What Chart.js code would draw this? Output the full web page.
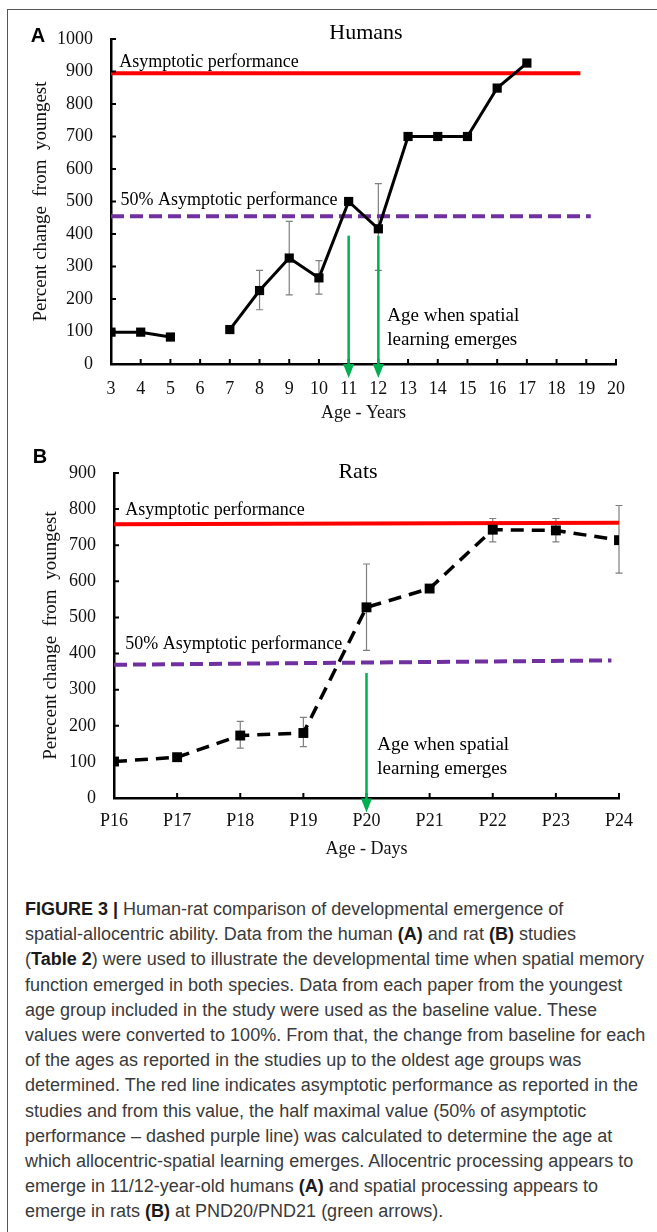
<!DOCTYPE html>
<html>
<head>
<meta charset="utf-8">
<script src="https://cdn.jsdelivr.net/npm/chart.js@4.4.1/dist/chart.umd.min.js"></script>
<style>
  html, body { margin: 0; padding: 0; background: #fff; }
  body { width: 657px; height: 1232px; position: relative; overflow: hidden; }
  #frame { position: absolute; left: 7px; top: 9px; right: -2px; bottom: -2px;
           border-top: 1.5px solid #555; border-left: 1.5px solid #555; }
  .panel { position: absolute; left: 0; width: 657px; }
  #panelA { top: 0; height: 440px; }
  #panelB { top: 440px; height: 425px; }
  #caption { position: absolute; left: 25px; top: 897px; font-family: "Liberation Sans", Arial, sans-serif;
             font-size: 18px; line-height: 25.2px; color: #3a3a3a; white-space: nowrap; }
  #caption b { color: #1a1a1a; }
</style>
</head>
<body>
<div id="frame"></div>
<div class="panel" id="panelA"><canvas id="chartA"></canvas></div>
<div class="panel" id="panelB"><canvas id="chartB"></canvas></div>
<div id="caption">
<b>FIGURE 3 |</b> Human-rat comparison of developmental emergence of<br>
spatial-allocentric ability. Data from the human <b>(A)</b> and rat <b>(B)</b> studies<br>
(<b>Table 2</b>) were used to illustrate the developmental time when spatial memory<br>
function emerged in both species. Data from each paper from the youngest<br>
age group included in the study were used as the baseline value. These<br>
values were converted to 100%. From that, the change from baseline for each<br>
of the ages as reported in the studies up to the oldest age groups was<br>
determined. The red line indicates asymptotic performance as reported in the<br>
studies and from this value, the half maximal value (50% of asymptotic<br>
performance – dashed purple line) was calculated to determine the age at<br>
which allocentric-spatial learning emerges. Allocentric processing appears to<br>
emerge in 11/12-year-old humans <b>(A)</b> and spatial processing appears to<br>
emerge in rats <b>(B)</b> at PND20/PND21 (green arrows).
</div>

<script>
// --- Panel A : humans (age in years) ---
const humanAges = [3, 4, 5, 6, 7, 8, 9, 10, 11, 12, 13, 14, 15, 16, 17];
const humanValues = [98, 98, 83, null, 106, 226, 326, 265, 500, 416, 700, 700, 700, 849, 926];
const humanErrLow = [null, null, null, null, null, 167, 213, 215, null, 288, null, null, null, null, null];
const humanErrHigh = [null, null, null, null, null, 288, 439, 318, null, 555, null, null, null, null, null];
const humanAsymptote = [{ x: 3, y: 895 }, { x: 18.8, y: 895 }];
const humanHalf = [{ x: 3, y: 455 }, { x: 19.15, y: 455 }];
const humanArrowAges = [11, 12];

// --- Panel B : rats (postnatal day) ---
const dayLabels = ['P16', 'P17', 'P18', 'P19', 'P20', 'P21', 'P22', 'P23', 'P24'];
const ratValues = [101, 113, 173, 180, 528, 580, 743, 741, 714];
const ratErrLow = [null, null, 138, 142, 409, null, 709, 709, 623];
const ratErrHigh = [null, null, 212, 223, 648, null, 774, 774, 810];
const ratAsymptote = [{ x: 0, y: 758 }, { x: 8, y: 762 }];
const ratHalf = [{ x: 0, y: 369 }, { x: 7.88, y: 381 }];
const ratArrowDays = ['P20'];

const SERIF = '"Liberation Serif", "Times New Roman", serif';
const SANS = '"Liberation Sans", Arial, sans-serif';
const GREEN = '#00B050';
const RED = '#FF0000';
const PURPLE = '#7030A0';

function drawArrow(ctx, x, yFrom, yTip) {
  ctx.save();
  ctx.strokeStyle = GREEN;
  ctx.fillStyle = GREEN;
  ctx.lineWidth = 2.5;
  ctx.beginPath();
  ctx.moveTo(x, yFrom);
  ctx.lineTo(x, yTip - 12);
  ctx.stroke();
  ctx.beginPath();
  ctx.moveTo(x - 5.5, yTip - 14);
  ctx.lineTo(x + 5.5, yTip - 14);
  ctx.lineTo(x, yTip);
  ctx.closePath();
  ctx.fill();
  ctx.restore();
}

// error bars, inner tick marks, arrows and the text notes
function extras(opt) {
  return {
    id: 'extras',
    beforeDatasetsDraw(chart) {
      const { ctx } = chart;
      const xs = chart.scales.x, ys = chart.scales.y;
      ctx.save();
      ctx.strokeStyle = '#7f7f7f';
      ctx.lineWidth = 1.2;
      opt.errX.forEach((xv, i) => {
        if (opt.errLow[i] == null) return;
        const px = xs.getPixelForValue(xv);
        const y1 = ys.getPixelForValue(opt.errLow[i]);
        const y2 = ys.getPixelForValue(opt.errHigh[i]);
        ctx.beginPath();
        ctx.moveTo(px, y1); ctx.lineTo(px, y2);
        ctx.moveTo(px - 3.5, y1); ctx.lineTo(px + 3.5, y1);
        ctx.moveTo(px - 3.5, y2); ctx.lineTo(px + 3.5, y2);
        ctx.stroke();
      });
      ctx.restore();
    },
    afterDatasetsDraw(chart) {
      const { ctx, chartArea } = chart;
      const xs = chart.scales.x, ys = chart.scales.y;
      ctx.save();
      // inner ticks
      ctx.strokeStyle = '#000';
      ctx.lineWidth = 2;
      ctx.beginPath();
      xs.ticks.forEach(t => {
        const px = xs.getPixelForValue(t.value);
        ctx.moveTo(px, chartArea.bottom);
        ctx.lineTo(px, chartArea.bottom - 5);
      });
      ys.ticks.forEach(t => {
        const py = ys.getPixelForValue(t.value);
        ctx.moveTo(chartArea.left, py);
        ctx.lineTo(chartArea.left + 5, py);
      });
      ctx.stroke();
      // arrows
      opt.arrows.forEach(a => {
        drawArrow(ctx, xs.getPixelForValue(a.x), ys.getPixelForValue(a.from), ys.getPixelForValue(a.to));
      });
      // notes
      ctx.fillStyle = '#000';
      ctx.textBaseline = 'middle';
      ctx.textAlign = 'left';
      opt.notes.forEach(n => {
        ctx.font = n.size + 'px ' + SERIF;
        ctx.fillText(n.text, xs.getPixelForValue(n.x), ys.getPixelForValue(n.y));
      });
      // chart title and panel letter
      ctx.textAlign = 'center';
      ctx.font = '22px ' + SERIF;
      ctx.fillText(opt.title, opt.titlePos[0], opt.titlePos[1]);
      ctx.font = 'bold 20px ' + SANS;
      ctx.fillText(opt.letter, opt.letterPos[0], opt.letterPos[1]);
      ctx.restore();
    }
  };
}

function axisOptions(o) {
  return {
    x: {
      type: 'linear',
      min: o.xMin, max: o.xMax,
      afterFit: s => { s.height = o.xHeight; },
      grid: { display: false, drawTicks: false },
      border: { display: true, color: '#000', width: 2.5 },
      ticks: { stepSize: 1, autoSkip: false, maxRotation: 0, padding: o.xPad, color: '#111',
               font: { family: SERIF, size: 18 }, callback: o.xLabel },
      title: { display: true, text: o.xTitle, color: '#111', font: { family: SERIF, size: 18 },
               padding: { top: 0, bottom: o.xTitlePad } }
    },
    y: {
      min: 0, max: o.yMax,
      afterFit: s => { s.width = o.yWidth; },
      grid: { display: false, drawTicks: false },
      border: { display: true, color: '#000', width: 2.5 },
      ticks: { stepSize: 100, padding: 18, color: '#111', font: { family: SERIF, size: 18 },
               callback: v => String(v) },
      title: { display: true, text: o.yTitle, color: '#111', font: { family: SERIF, size: 19 },
               padding: { top: o.yTitlePad, bottom: 0 } }
    }
  };
}

const baseOptions = {
  responsive: true,
  maintainAspectRatio: false,
  animation: false,
  plugins: { legend: { display: false }, tooltip: { enabled: false } }
};

new Chart(document.getElementById('chartA'), {
  type: 'line',
  data: {
    datasets: [
      { data: humanAges.map((a, i) => ({ x: a, y: humanValues[i] })), borderColor: '#000', borderWidth: 3,
        pointStyle: 'rect', pointRadius: 6.5, pointBackgroundColor: '#000', pointBorderWidth: 0, order: 0 },
      { data: humanAsymptote, borderColor: RED, borderWidth: 4, pointRadius: 0, order: 2 },
      { data: humanHalf, borderColor: PURPLE, borderWidth: 4, borderDash: [13, 6], pointRadius: 0, order: 1 }
    ]
  },
  options: Object.assign({}, baseOptions, {
    layout: { padding: { left: 0, top: 39, right: 41, bottom: 0 } },
    scales: axisOptions({ xMin: 3, xMax: 20, xHeight: 76, xPad: 14, xTitle: 'Age - Years', xTitlePad: 16,
                          xLabel: v => String(v),
                          yMax: 1000, yWidth: 111, yTitle: 'Percent change  from  youngest', yTitlePad: 30 })
  }),
  plugins: [extras({
    errX: humanAges, errLow: humanErrLow, errHigh: humanErrHigh,
    arrows: humanArrowAges.map(a => ({ x: a, from: 395, to: -43 })),
    notes: [
      { text: 'Asymptotic performance', x: 3.28, y: 929, size: 18 },
      { text: '50% Asymptotic performance', x: 3.32, y: 503, size: 18 },
      { text: 'Age when spatial', x: 12.3, y: 147, size: 19 },
      { text: 'learning emerges', x: 12.3, y: 75, size: 19 }
    ],
    title: 'Humans', titlePos: [366, 33],
    letter: 'A', letterPos: [38, 36]
  })]
});

new Chart(document.getElementById('chartB'), {
  type: 'line',
  data: {
    datasets: [
      { data: ratValues.map((v, i) => ({ x: i, y: v })), borderColor: '#000', borderWidth: 3.5, borderDash: [13, 8],
        pointStyle: 'rect', pointRadius: 7, pointBackgroundColor: '#000', pointBorderWidth: 0, order: 0 },
      { data: ratAsymptote, borderColor: RED, borderWidth: 4, pointRadius: 0, order: 2 },
      { data: ratHalf, borderColor: PURPLE, borderWidth: 4, borderDash: [13, 6], pointRadius: 0, order: 1 }
    ]
  },
  options: Object.assign({}, baseOptions, {
    layout: { padding: { left: 0, top: 33, right: 38, bottom: 0 } },
    scales: axisOptions({ xMin: 0, xMax: dayLabels.length - 1, xHeight: 67, xPad: 12, xTitle: 'Age - Days', xTitlePad: 5,
                          xLabel: v => dayLabels[v],
                          yMax: 900, yWidth: 114, yTitle: 'Perecent change  from  youngest', yTitlePad: 40 })
  }),
  plugins: [extras({
    errX: dayLabels.map((d, i) => i), errLow: ratErrLow, errHigh: ratErrHigh,
    arrows: ratArrowDays.map(d => ({ x: dayLabels.indexOf(d), from: 346, to: -40 })),
    notes: [
      { text: 'Asymptotic performance', x: 0.18, y: 797, size: 18 },
      { text: '50% Asymptotic performance', x: 0.18, y: 427, size: 18 },
      { text: 'Age when spatial', x: 4.17, y: 146, size: 19 },
      { text: 'learning emerges', x: 4.17, y: 81, size: 19 }
    ],
    title: 'Rats', titlePos: [358, 32],
    letter: 'B', letterPos: [40, 17]
  })]
});
</script>
</body>
</html>
